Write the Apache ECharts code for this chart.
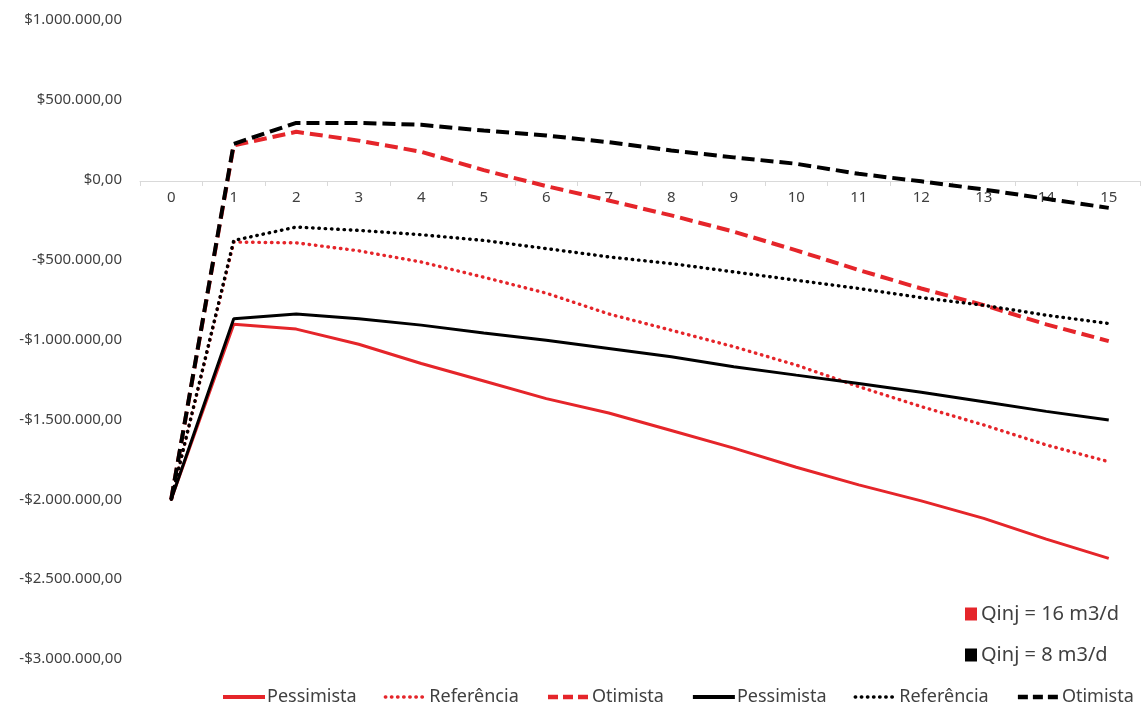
<!DOCTYPE html>
<html>
<head>
<meta charset="utf-8">
<script src="https://cdn.jsdelivr.net/npm/echarts@6/dist/echarts.min.js"></script>
<style>
html,body{margin:0;padding:0;background:#fff;}
#chart{width:1146px;height:708px;}
</style>
</head>
<body>
<div id="chart"></div>
<script>
const years = ['0','1','2','3','4','5','6','7','8','9','10','11','12','13','14','15'];
const qinj16Pessimista = [-2000000, -905000, -935000, -1030000, -1150000, -1260000, -1370000, -1460000, -1570000, -1680000, -1800000, -1910000, -2010000, -2120000, -2250000, -2370000];
const qinj16Referencia = [-2000000, -390000, -395000, -445000, -515000, -610000, -710000, -840000, -942000, -1045000, -1160000, -1295000, -1420000, -1535000, -1660000, -1765000];
const qinj16Otimista   = [-2000000, 215000, 300000, 245000, 175000, 60000, -40000, -130000, -223000, -325000, -442000, -565000, -681000, -785000, -905000, -1010000];
const qinj8Pessimista  = [-2000000, -870000, -840000, -870000, -910000, -960000, -1005000, -1056000, -1108000, -1170000, -1223000, -1275000, -1330000, -1390000, -1450000, -1504000];
const qinj8Referencia  = [-2000000, -380000, -296000, -317000, -344000, -380000, -431000, -483000, -525000, -577000, -629000, -681000, -738000, -786000, -848000, -900000];
const qinj8Otimista    = [-2000000, 225000, 356000, 356000, 344000, 308000, 277000, 235000, 183000, 140000, 100000, 37000, -10000, -61000, -119000, -176000];
const groupLabels = ['Qinj = 16 m3/d', 'Qinj = 8 m3/d'];

const RED = '#e5252a';
const BLACK = '#000000';
const FONT = 'Noto Sans';

function money(v) {
  const a = Math.abs(v);
  const s = String(Math.round(a)).replace(/\B(?=(\d{3})+(?!\d))/g, '.');
  return (v < 0 ? '-' : '') + '$' + s + ',00';
}

function styleFor(color, kind) {
  if (kind === 'dot') return {color: color, width: 3.4, type: [0.5, 5.8], cap: 'round'};
  if (kind === 'dash') return {color: color, width: 4, type: [13, 6], cap: 'butt'};
  return {color: color, width: 3, type: 'solid'};
}
function legendStyle(color, kind) {
  if (kind === 'dot') return {color: color, width: 3.4, type: [0.5, 5.6], cap: 'round'};
  if (kind === 'dash') return {color: color, width: 4.5, type: [10, 5], cap: 'butt'};
  return {color: color, width: 4, type: 'solid'};
}

function lineSeries(id, data, color, kind) {
  return {
    name: id, type: 'line', data: data, symbol: 'none', showSymbol: false,
    lineStyle: styleFor(color, kind), itemStyle: {color: color}, z: color === BLACK ? 3 : 2
  };
}

const chart = echarts.init(document.getElementById('chart'));
const lineNames = ['r|Pessimista','r|Referência','r|Otimista','k|Pessimista','k|Referência','k|Otimista'];
const lineColors = [RED, RED, RED, BLACK, BLACK, BLACK];
const lineKinds = ['solid','dot','dash','solid','dot','dash'];
const lineData = [qinj16Pessimista, qinj16Referencia, qinj16Otimista, qinj8Pessimista, qinj8Referencia, qinj8Otimista];

chart.setOption({
  animation: false,
  backgroundColor: '#ffffff',
  grid: {left: 140, right: 6, top: 20, bottom: 49, containLabel: false},
  xAxis: {
    type: 'category', data: years, boundaryGap: true, position: 'bottom', offset: -478,
    axisLine: {onZero: false, lineStyle: {color: '#d9d9d9', width: 1}},
    axisTick: {show: true, length: 5, lineStyle: {color: '#d9d9d9'}},
    axisLabel: {color: '#404040', fontFamily: FONT, fontSize: 15, margin: 9},
    splitLine: {show: false}
  },
  yAxis: {
    type: 'value', min: -3000000, max: 1000000, interval: 500000,
    axisLine: {show: false}, axisTick: {show: false}, splitLine: {show: false},
    axisLabel: {color: '#404040', fontFamily: FONT, fontSize: 15, margin: 18, formatter: money}
  },
  legend: [{
    data: lineNames.map((n, i) => ({name: n, lineStyle: legendStyle(lineColors[i], lineKinds[i])})),
    top: 688, left: 221, width: 925, padding: 0, itemGap: 27, itemWidth: 42, itemHeight: 16,
    formatter: function (n) { return n.slice(2); },
    itemStyle: {opacity: 0},
    textStyle: {color: '#404040', fontFamily: FONT, fontSize: 18, padding: [0,0,0,-3]},
    selectedMode: false
  }, {
    data: [{name: groupLabels[0], icon: 'rect'}, {name: groupLabels[1], icon: 'rect'}],
    orient: 'vertical', left: 960, top: 599, itemGap: 21, itemWidth: 12, itemHeight: 13,
    textStyle: {color: '#404040', fontFamily: FONT, fontSize: 20, padding: [0,0,0,-1]},
    selectedMode: false
  }],
  series: lineNames.map((n, i) => lineSeries(n, lineData[i], lineColors[i], lineKinds[i])).concat([
    {name: groupLabels[0], type: 'bar', data: [], itemStyle: {color: RED}},
    {name: groupLabels[1], type: 'bar', data: [], itemStyle: {color: BLACK}}
  ])
});
</script>
</body>
</html>
